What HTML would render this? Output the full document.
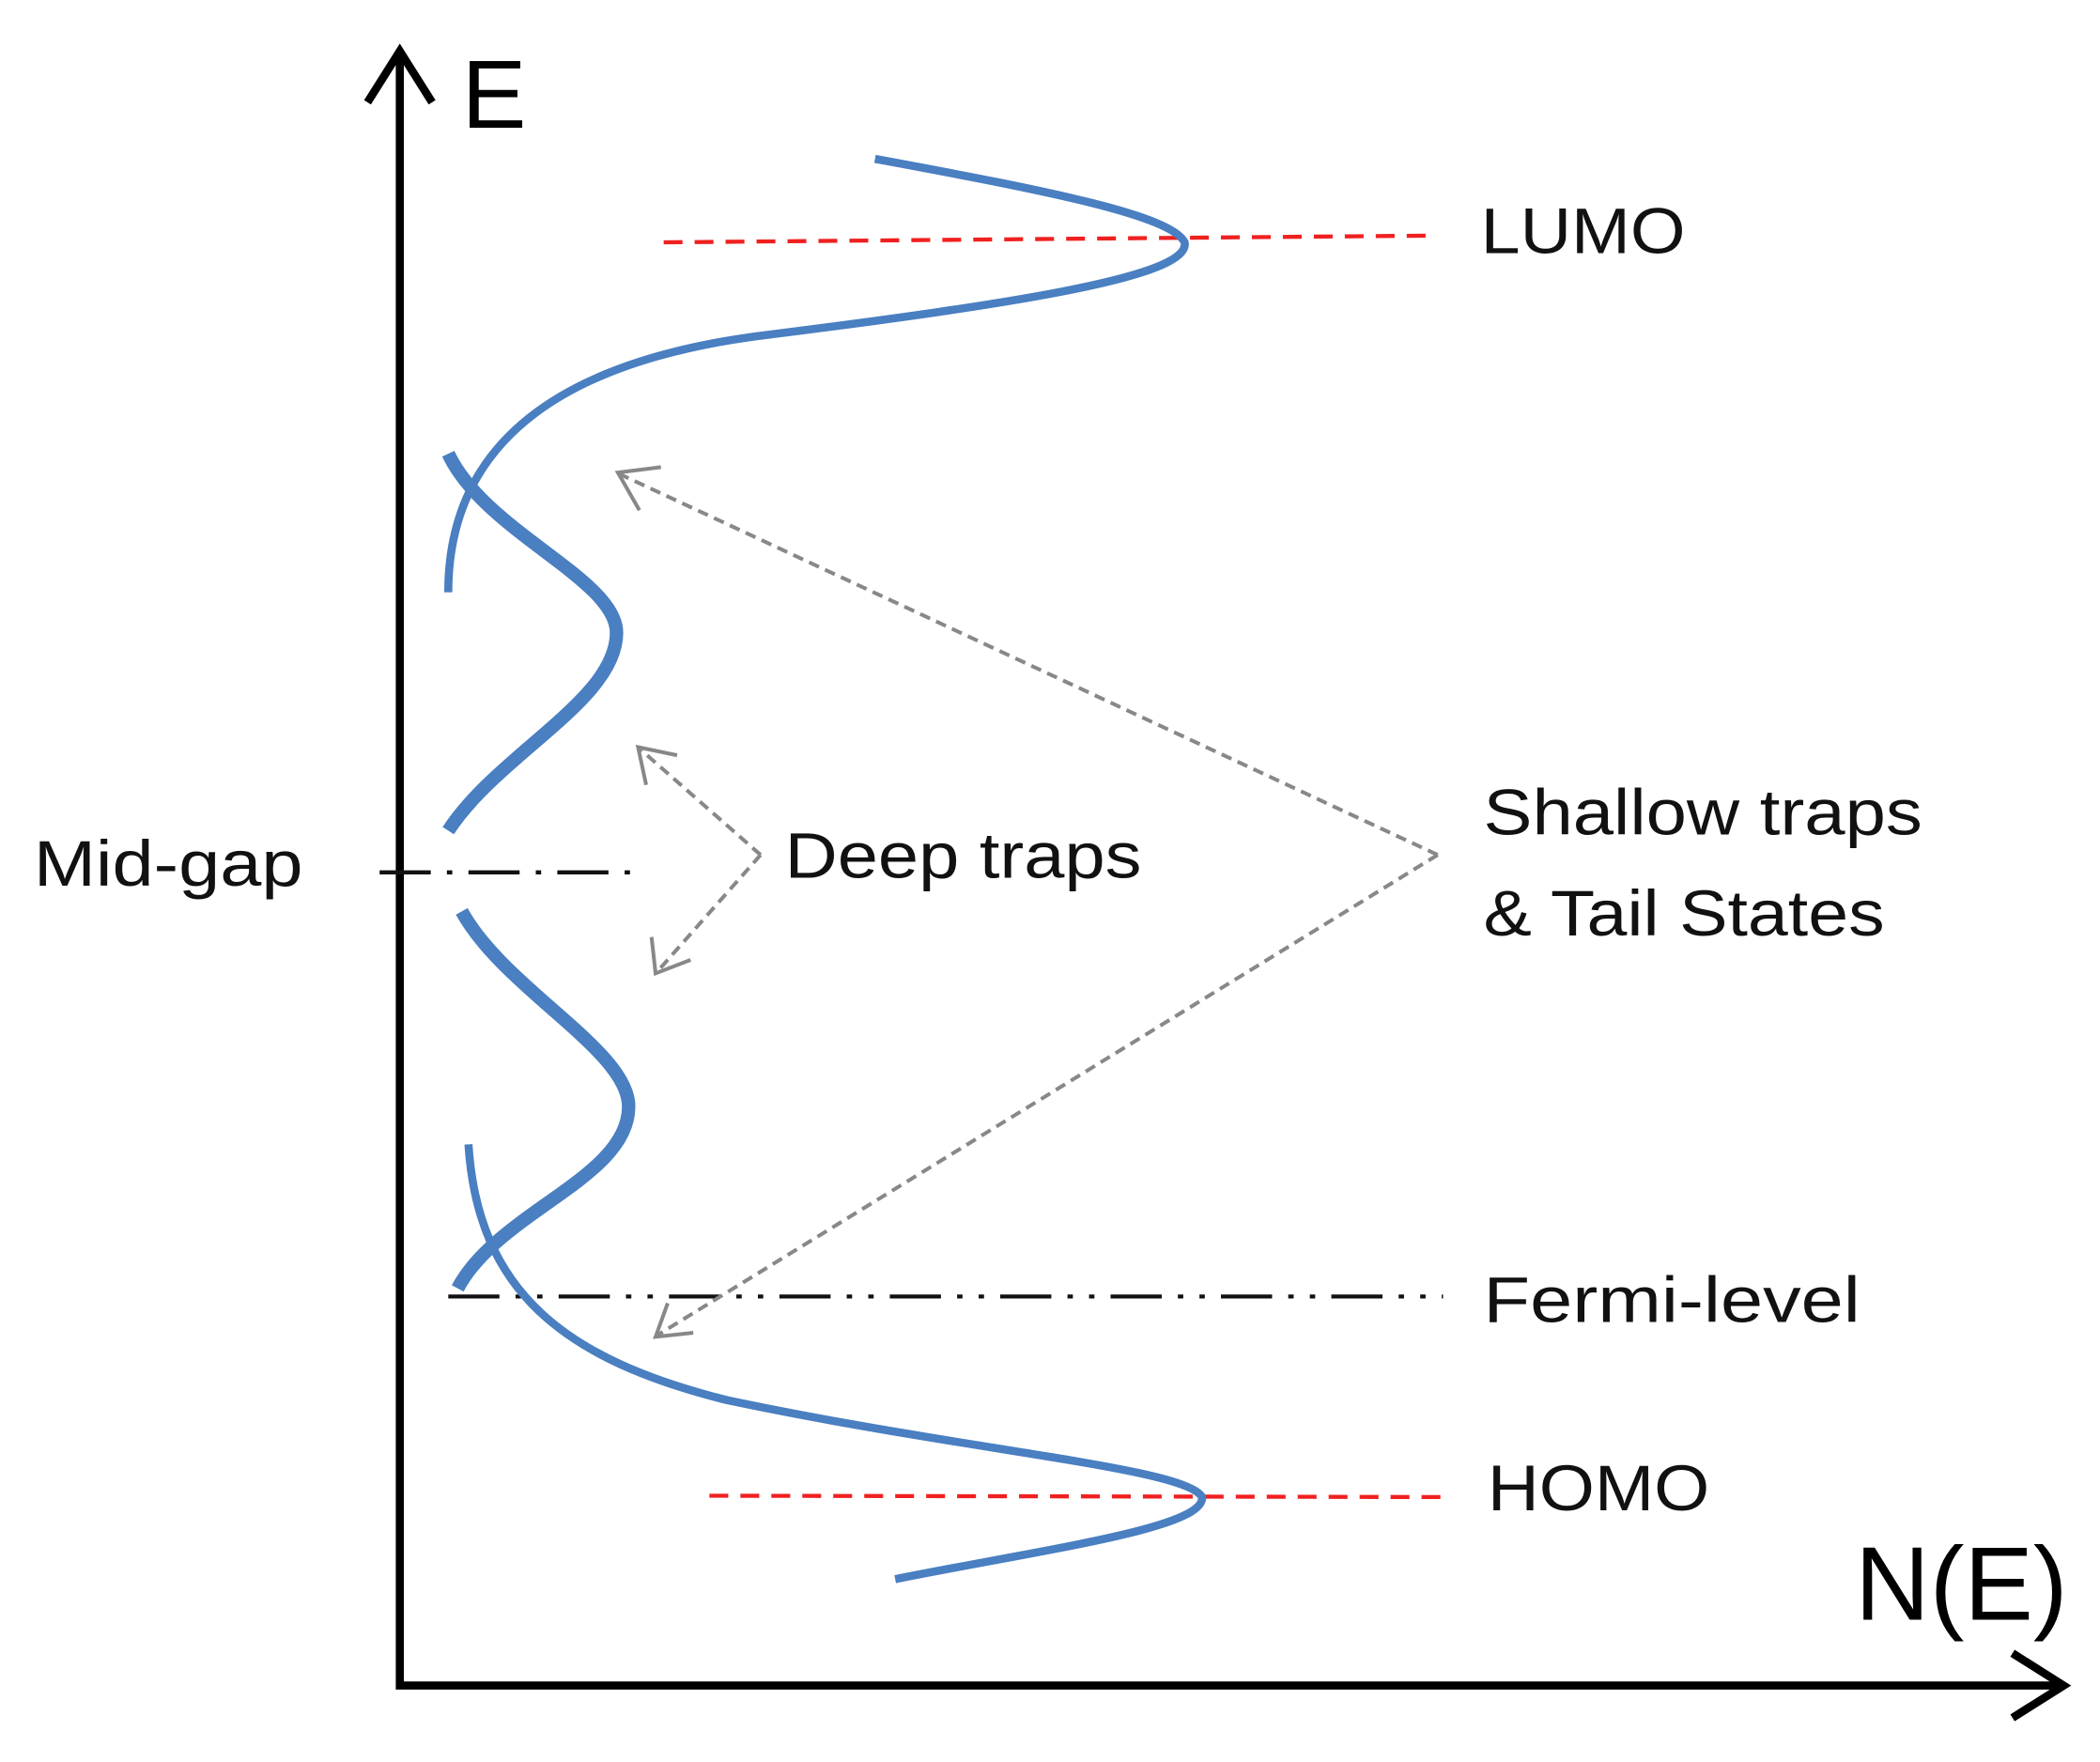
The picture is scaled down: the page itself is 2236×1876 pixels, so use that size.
<!DOCTYPE html>
<html><head><meta charset="utf-8"><style>html,body{margin:0;padding:0;background:#fff}svg{display:block}</style></head>
<body>
<svg width="2236" height="1876" viewBox="0 0 1560 1308.8" preserveAspectRatio="none" xmlns="http://www.w3.org/2000/svg" font-family="Liberation Sans, sans-serif">
<rect width="1560" height="1309" fill="#fff"/>
<!-- axes -->
<path d="M297 40 L297 1252 L1530 1252" fill="none" stroke="#000" stroke-width="6"/>
<path d="M273 76 L297 38 L321 76" fill="none" stroke="#000" stroke-width="6"/>
<path d="M1495 1228 L1533 1252 L1495 1276" fill="none" stroke="#000" stroke-width="6"/>
<text x="343" y="95" font-size="72">E</text>
<text x="1378" y="1203" font-size="78" textLength="158" lengthAdjust="spacingAndGlyphs">N(E)</text>
<!-- red dashed -->
<line x1="493" y1="180" x2="1065" y2="175" stroke="#f02020" stroke-width="3" stroke-dasharray="14,9"/>
<line x1="527" y1="1111" x2="1070" y2="1112" stroke="#f02020" stroke-width="3" stroke-dasharray="14,9"/>
<!-- dash-dot -->
<line x1="333" y1="963" x2="1072" y2="963" stroke="#111" stroke-width="3" stroke-dasharray="38,12,4,12,4,12"/>
<line x1="282" y1="648" x2="478" y2="648" stroke="#111" stroke-width="3" stroke-dasharray="38,12,4,12"/>
<!-- blue curves -->
<path d="M650 118 C780 142 870 160 880 180 C885 205 760 225 560 250 C430 268 333 320 333 440" fill="none" stroke="#4a7fc1" stroke-width="6"/>
<path d="M348 850 C355 960 420 1010 540 1040 C720 1078 880 1090 893 1112 C895 1135 780 1150 665 1173" fill="none" stroke="#4a7fc1" stroke-width="6"/>
<path d="M333 337 C360 395 458 430 458 470 C458 520 370 560 333 617" fill="none" stroke="#4a7fc1" stroke-width="10"/>
<path d="M343 677 C375 735 467 780 467 822 C467 875 370 900 340 957" fill="none" stroke="#4a7fc1" stroke-width="10"/>
<!-- gray arrows -->
<g fill="none" stroke="#888" stroke-width="2.8">
<path d="M565 635 L475 556 M565 635 L488 722" stroke-dasharray="8,5"/>
<path d="M480 583 L474 555 L503 561 M484 696 L487 723 L513 713"/>
<path d="M1068 635 L460 352 M1068 635 L488 992" stroke-dasharray="8,5"/>
<path d="M475 379 L459 351 L491 347 M496 968 L487 993 L515 990"/>
</g>
<!-- labels -->
<g font-size="48" fill="#111">
<text x="1100" y="188" textLength="152" lengthAdjust="spacingAndGlyphs">LUMO</text>
<text x="1105" y="1122" textLength="165" lengthAdjust="spacingAndGlyphs">HOMO</text>
<text x="1102" y="982" textLength="280" lengthAdjust="spacingAndGlyphs">Fermi-level</text>
<text x="25" y="658" textLength="200" lengthAdjust="spacingAndGlyphs">Mid-gap</text>
<text x="583" y="652" textLength="265" lengthAdjust="spacingAndGlyphs">Deep traps</text>
<text x="1102" y="620" textLength="326" lengthAdjust="spacingAndGlyphs">Shallow traps</text>
<text x="1102" y="695" textLength="298" lengthAdjust="spacingAndGlyphs">&amp; Tail States</text>
</g>
</svg>
</body></html>
